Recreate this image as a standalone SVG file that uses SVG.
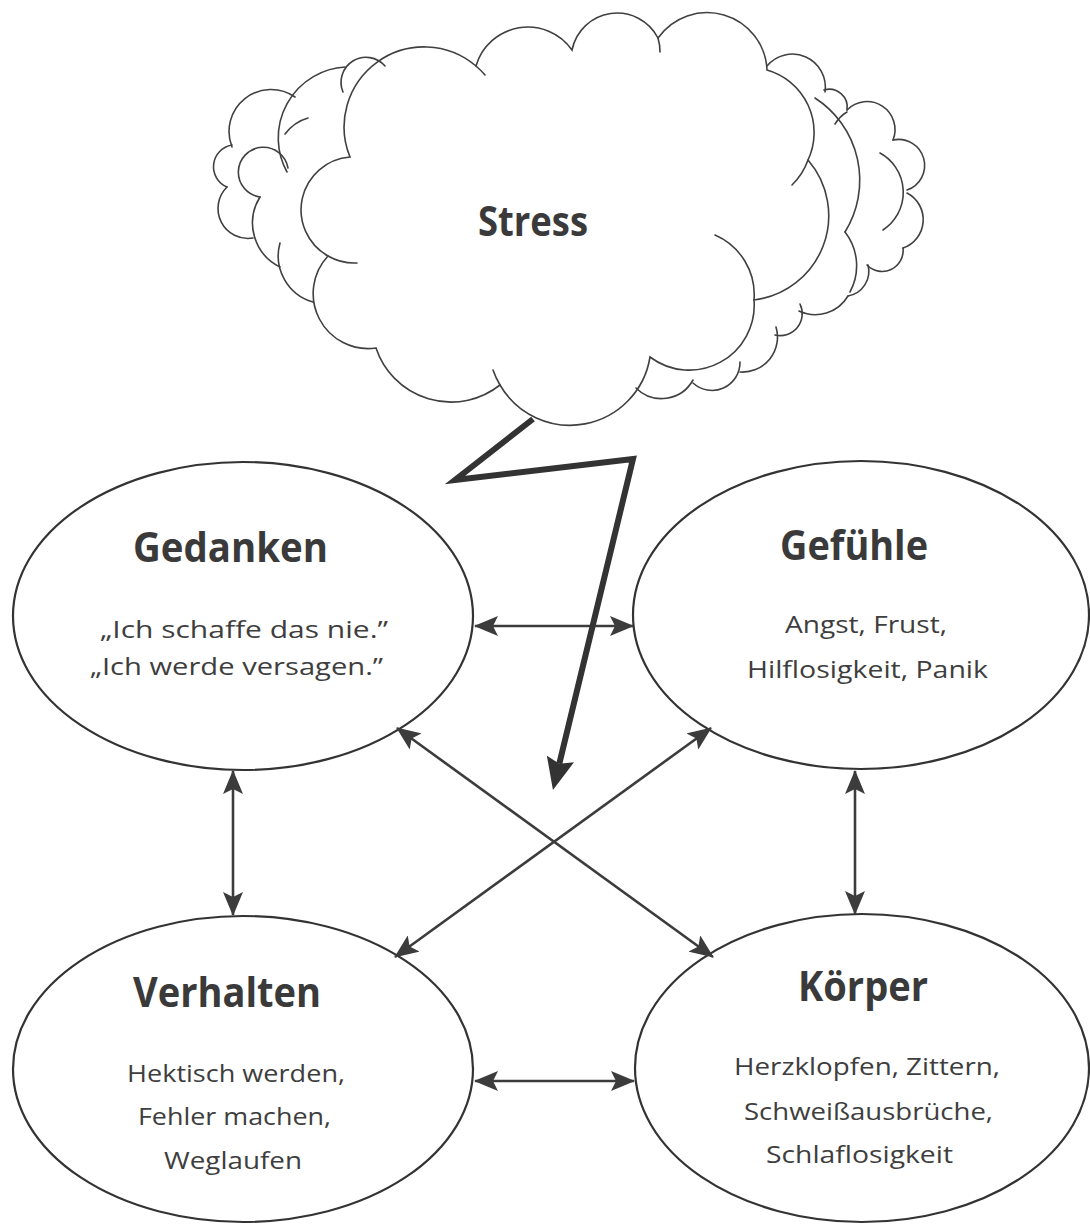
<svg xmlns="http://www.w3.org/2000/svg" width="1090" height="1224" viewBox="0 0 1090 1224">
<style>
.bg{fill:#ffffff}
.cl{fill:none;stroke:#404040;stroke-width:1.6;stroke-linecap:round}
.el{fill:#ffffff;stroke:#333333;stroke-width:2.2}
.ttl{font-family:"Open Sans","Noto Sans","DejaVu Sans",sans-serif;font-weight:700;font-size:41px;fill:#3a3a3a;text-anchor:middle}
.bd{font-family:"Open Sans","Noto Sans","DejaVu Sans",sans-serif;font-weight:400;font-size:24px;fill:#3e3e3e;text-anchor:middle}
.con{fill:none;stroke:#3c3c3c;stroke-width:2.6;marker-start:url(#ah);marker-end:url(#ah)}
.bolt{fill:none;stroke:#333333;stroke-width:6;stroke-linejoin:miter;stroke-miterlimit:20;marker-end:url(#bh)}
</style>
<defs>
<marker id="ah" viewBox="0 0 24 20" refX="23" refY="10" markerWidth="24" markerHeight="20" markerUnits="userSpaceOnUse" orient="auto-start-reverse">
<path d="M0,0 L24,10 L0,20 L5,10 Z" fill="#3c3c3c"/>
</marker>
<marker id="bh" viewBox="0 0 32 28" refX="5" refY="14" markerWidth="32" markerHeight="28" markerUnits="userSpaceOnUse" orient="auto">
<path d="M0,0 L32,14 L0,28 L5,14 Z" fill="#333333"/>
</marker>
</defs>
<rect class="bg" x="0" y="0" width="1090" height="1224"/>

<g id="stress">
<g id="cloud-back">
<path class="cl" d="M343,92 A25,25 0 0 1 385,66"/>
<path class="cl" d="M287,172 A71,71 0 0 1 345,67"/>
<path class="cl" d="M232,147 A42,42 0 0 1 295,97"/>
<path class="cl" d="M285,134 Q294,122 308,118"/>
<path class="cl" d="M227,187 A22,22 0 0 1 232,145"/>
<path class="cl" d="M253,238 A30,30 0 0 1 227,187"/>
<path class="cl" d="M260,197 A25,25 0 1 1 288,168"/>
<path class="cl" d="M280,267 A49,49 0 0 1 260,197"/>
<path class="cl" d="M313,302 A48,48 0 0 1 280,243"/>
<path class="cl" d="M767,66 A33,33 0 0 1 825,92"/>
<path class="cl" d="M815,98 A98,98 0 0 1 845,232"/>
<path class="cl" d="M845,232 A55,55 0 0 1 850,292"/>
<path class="cl" d="M824,90 A18,18 0 0 1 847,110"/>
<path class="cl" d="M847,110 A28,28 0 0 1 893,140"/>
<path class="cl" d="M835,124 Q840,116 847,112"/>
<path class="cl" d="M893,140 A26,26 0 0 1 907,190"/>
<path class="cl" d="M907,193 A30,30 0 0 1 903,248"/>
<path class="cl" d="M903,248 A21,21 0 0 1 867,265"/>
<path class="cl" d="M868,265 A25,25 0 0 1 848,296"/>
<path class="cl" d="M848,296 A38,38 0 0 1 799,311"/>
<path class="cl" d="M800,304 A22,22 0 0 1 775,335"/>
<path class="cl" d="M776,327 A35,35 0 0 1 740,372"/>
<path class="cl" d="M740,362 A28,28 0 0 1 693,383"/>
<path class="cl" d="M693,380 A36,36 0 0 1 636,388"/>
<path class="cl" d="M880,153 A45,45 0 0 1 883,230"/>
</g>
<g id="cloud-front">
<path class="cl" d="M350,157 A80,80 0 0 1 476,66 A54,54 0 0 1 572,50 A46,46 0 0 1 658,38 A60,60 0 0 1 767,70 A65,65 0 0 1 808,160 A85,85 0 0 1 754,300 A65,65 0 0 1 650,357 A81,81 0 0 1 500,385 A79,79 0 0 1 376,348 A55,55 0 0 1 328,256 A53,53 0 0 1 350,157 Z"/>
<path class="cl" d="M715,235 A65,65 0 0 1 754,300"/>
<path class="cl" d="M808,160 A65,65 0 0 1 792,185"/>
<path class="cl" d="M500,385 A81,81 0 0 1 493,370"/>
<path class="cl" d="M357,263 A53,53 0 0 1 328,256"/>
<path class="cl" d="M658,38 A46,46 0 0 1 660,52"/>
<path class="cl" d="M476,66 A80,80 0 0 1 485,75"/>
</g>
<text class="ttl" x="533" y="236" textLength="110" lengthAdjust="spacingAndGlyphs">Stress</text>
</g>

<g id="gedanken">
<ellipse class="el" cx="243" cy="616" rx="230" ry="154"/>
<text class="ttl" x="230.5" y="562" textLength="195" lengthAdjust="spacingAndGlyphs">Gedanken</text>
<text class="bd" x="244" y="638" textLength="288" lengthAdjust="spacingAndGlyphs">„Ich schaffe das nie.”</text>
<text class="bd" x="236.5" y="675" textLength="293" lengthAdjust="spacingAndGlyphs">„Ich werde versagen.”</text>
</g>

<g id="gefuehle">
<ellipse class="el" cx="861" cy="615" rx="228" ry="154"/>
<text class="ttl" x="854" y="560" textLength="148" lengthAdjust="spacingAndGlyphs">Gefühle</text>
<text class="bd" x="866" y="633" textLength="162" lengthAdjust="spacingAndGlyphs">Angst, Frust,</text>
<text class="bd" x="867.5" y="678" textLength="241" lengthAdjust="spacingAndGlyphs">Hilflosigkeit, Panik</text>
</g>

<g id="verhalten">
<ellipse class="el" cx="243" cy="1069" rx="230" ry="153"/>
<text class="ttl" x="227" y="1007" textLength="188" lengthAdjust="spacingAndGlyphs">Verhalten</text>
<text class="bd" x="236" y="1082" textLength="218" lengthAdjust="spacingAndGlyphs">Hektisch werden,</text>
<text class="bd" x="234.5" y="1125" textLength="193" lengthAdjust="spacingAndGlyphs">Fehler machen,</text>
<text class="bd" x="233" y="1169" textLength="138" lengthAdjust="spacingAndGlyphs">Weglaufen</text>
</g>

<g id="koerper">
<ellipse class="el" cx="862" cy="1068" rx="227" ry="154"/>
<text class="ttl" x="863" y="1001" textLength="130" lengthAdjust="spacingAndGlyphs">Körper</text>
<text class="bd" x="867" y="1075" textLength="266" lengthAdjust="spacingAndGlyphs">Herzklopfen, Zittern,</text>
<text class="bd" x="868.5" y="1120" textLength="249" lengthAdjust="spacingAndGlyphs">Schweißausbrüche,</text>
<text class="bd" x="859.5" y="1163" textLength="187" lengthAdjust="spacingAndGlyphs">Schlaflosigkeit</text>
</g>

<g id="connectors">
<line class="con" x1="475" y1="626" x2="633" y2="626"/>
<line class="con" x1="475" y1="1081" x2="634" y2="1081"/>
<line class="con" x1="233" y1="771" x2="233" y2="915"/>
<line class="con" x1="855" y1="771" x2="855" y2="914"/>
<line class="con" x1="397" y1="728" x2="713" y2="957"/>
<line class="con" x1="711" y1="728" x2="395" y2="957"/>
<polyline class="bolt" points="533,419 455,480 633,459 559.3,763.8"/>
</g>
</svg>
